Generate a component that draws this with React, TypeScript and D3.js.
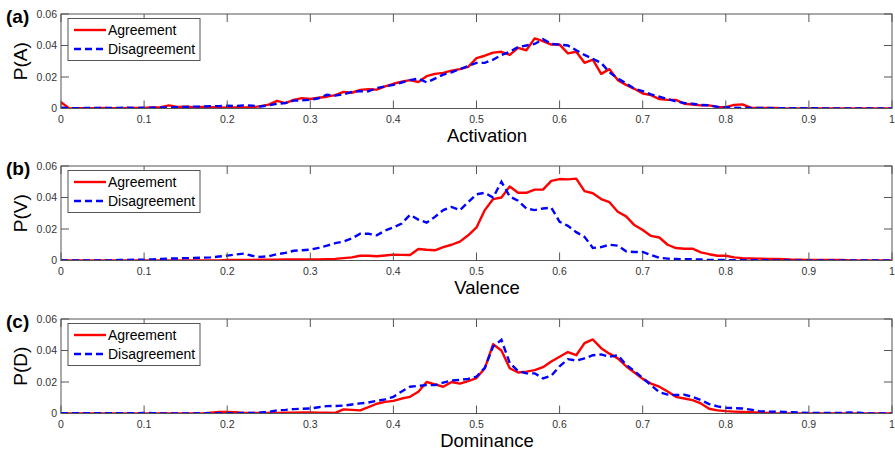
import React from "react";
import * as d3 from "d3";

const xValues: number[] = d3.range(0, 101).map((i) => i / 100);
const xTicks: number[] = [0, 0.1, 0.2, 0.3, 0.4, 0.5, 0.6, 0.7, 0.8, 0.9, 1];
const xTickLabels: string[] = ["0", "0.1", "0.2", "0.3", "0.4", "0.5", "0.6", "0.7", "0.8", "0.9", "1"];
const yTicks: number[] = [0, 0.02, 0.04, 0.06];
const yTickLabels: string[] = ["0", "0.02", "0.04", "0.06"];
const seriesNames: string[] = ["Agreement", "Disagreement"];
const panelLetters: string[] = ["(a)", "(b)", "(c)"];
const yLabels: string[] = ["P(A)", "P(V)", "P(D)"];
const xLabels: string[] = ["Activation", "Valence", "Dominance"];

// Panel (a) Activation
const actAgree: number[] = [
  0.004, 0.0, 0.0002, 0.0002, 0.0002, 0.0003, 0.0002, 0.0002, 0.0003, 0.0003,
  0.0004, 0.0006, 0.0008, 0.002, 0.001, 0.0012, 0.0008, 0.001, 0.0008, 0.0007,
  0.0005, 0.0007, 0.0006, 0.0007, 0.0015, 0.0025, 0.0049, 0.0034, 0.0055, 0.0066,
  0.006, 0.0068, 0.0075, 0.0085, 0.0105, 0.01, 0.0118, 0.0122, 0.012, 0.014,
  0.0157, 0.017, 0.018, 0.0168, 0.0205, 0.022, 0.0226, 0.024, 0.025, 0.0264,
  0.032, 0.0335, 0.0355, 0.036, 0.034, 0.0385, 0.037, 0.0445, 0.0428, 0.0406,
  0.0406, 0.035, 0.036, 0.029, 0.031, 0.022, 0.025, 0.018, 0.015, 0.0125,
  0.0095, 0.0085, 0.006, 0.0055, 0.0055, 0.003, 0.0025, 0.002, 0.002, 0.001,
  0.0008, 0.0023, 0.0026, 0.0005, 0.0003, 0.0003, 0.0003, 0.0001, 0.0001, 0.0001,
  0.0001, 0.0001, 0.0001, 0.0001, 0.0001, 0.0001, 0.0001, 0.0001, 0.0001, 0.0001,
  0.0001,
];
const actDisagree: number[] = [
  0.0005, 0.0003, 0.0002, 0.0003, 0.0003, 0.0004, 0.0003, 0.0004, 0.0005, 0.0004,
  0.0005, 0.0005, 0.0007, 0.0006, 0.0008, 0.001, 0.0012, 0.0012, 0.0015, 0.0015,
  0.0017, 0.0015, 0.002, 0.0018, 0.0013, 0.002, 0.003, 0.0035, 0.005, 0.0052,
  0.0055, 0.0065, 0.0087, 0.0082, 0.009, 0.0105, 0.011, 0.011, 0.013, 0.014,
  0.015, 0.0165, 0.018, 0.019, 0.0166, 0.019, 0.0215, 0.023, 0.025, 0.027,
  0.029, 0.029, 0.031, 0.034, 0.036, 0.039, 0.04, 0.041, 0.044, 0.041,
  0.0405, 0.04, 0.037, 0.034, 0.0315, 0.029, 0.023, 0.019, 0.016, 0.0125,
  0.011, 0.009, 0.0075, 0.006, 0.0045, 0.0035, 0.003, 0.0022, 0.002, 0.001,
  0.0008, 0.0005, 0.0003, 0.0003, 0.0003, 0.0003, 0.0002, 0.0002, 0.0002, 0.0002,
  0.0002, 0.0002, 0.0001, 0.0001, 0.0001, 0.0001, 0.0001, 0.0001, 0.0001, 0.0001,
  0.0001,
];

// Panel (b) Valence
const valAgree: number[] = [
  0.0001, 0.0001, 0.0001, 0.0001, 0.0001, 0.0001, 0.0001, 0.0001, 0.0001, 0.0001,
  0.0001, 0.0001, 0.0001, 0.0001, 0.0001, 0.0001, 0.0001, 0.0001, 0.0001, 0.0001,
  0.0003, 0.0003, 0.0004, 0.0004, 0.0005, 0.0005, 0.0005, 0.0006, 0.0006, 0.0006,
  0.0006, 0.0007, 0.0008, 0.001, 0.0015, 0.002, 0.003, 0.003, 0.0027, 0.0032,
  0.0037, 0.0036, 0.0035, 0.0073, 0.0068, 0.0065, 0.0085, 0.01, 0.012, 0.016,
  0.021, 0.032, 0.039, 0.04, 0.047, 0.043, 0.043, 0.045, 0.045, 0.0506,
  0.0517, 0.0515, 0.052, 0.044, 0.0427, 0.039, 0.037, 0.031, 0.028, 0.0225,
  0.0194, 0.0156, 0.0146, 0.01, 0.0079, 0.0075, 0.0075, 0.0052, 0.004, 0.003,
  0.003, 0.002, 0.0015, 0.0013, 0.0012, 0.001, 0.001, 0.0008, 0.0005, 0.0005,
  0.0004, 0.0003, 0.0003, 0.0003, 0.0003, 0.0001, 0.0001, 0.0001, 0.0001, 0.0001,
  0.0001,
];
const valDisagree: number[] = [
  0.0001, 0.0001, 0.0001, 0.0001, 0.0001, 0.0001, 0.0001, 0.0003, 0.0004, 0.0005,
  0.0005, 0.0007, 0.001, 0.0012, 0.0013, 0.0015, 0.0016, 0.0018, 0.002, 0.0025,
  0.0031, 0.0038, 0.0044, 0.003, 0.0023, 0.0027, 0.004, 0.0048, 0.0062, 0.0065,
  0.0069, 0.008, 0.0094, 0.011, 0.012, 0.014, 0.017, 0.017, 0.016, 0.019,
  0.021, 0.0235, 0.029, 0.026, 0.024, 0.0277, 0.032, 0.034, 0.032, 0.037,
  0.042, 0.043, 0.04, 0.05, 0.0406, 0.038, 0.033, 0.032, 0.033, 0.0335,
  0.0246, 0.022, 0.018, 0.015, 0.008, 0.0085, 0.01, 0.0094, 0.0058, 0.0054,
  0.0054, 0.0035, 0.0017, 0.0012, 0.001, 0.0008, 0.0008, 0.0006, 0.0003, 0.0003,
  0.0003, 0.0002, 0.0002, 0.0002, 0.0002, 0.0002, 0.0001, 0.0001, 0.0001, 0.0001,
  0.0001, 0.0001, 0.0001, 0.0001, 0.0001, 0.0001, 0.0001, 0.0001, 0.0001, 0.0001,
  0.0001,
];

// Panel (c) Dominance
const domAgree: number[] = [
  0.0001, 0.0001, 0.0001, 0.0001, 0.0001, 0.0001, 0.0001, 0.0001, 0.0001, 0.0001,
  0.0001, 0.0001, 0.0001, 0.0001, 0.0001, 0.0001, 0.0001, 0.0001, 0.0005, 0.001,
  0.001, 0.0008, 0.0003, 0.0003, 0.0003, 0.0003, 0.0004, 0.0005, 0.0005, 0.0006,
  0.0006, 0.0005, 0.0005, 0.0004, 0.0026, 0.0023, 0.002, 0.004, 0.0062, 0.0074,
  0.008, 0.0095, 0.0106, 0.0138, 0.02, 0.0185, 0.017, 0.02, 0.019, 0.0205,
  0.0225, 0.0287, 0.044, 0.04, 0.0287, 0.026, 0.0266, 0.0275, 0.0294, 0.033,
  0.036, 0.039, 0.037, 0.0447, 0.047, 0.0415, 0.038, 0.035, 0.03, 0.026,
  0.022, 0.019, 0.017, 0.014, 0.0106, 0.0095, 0.0085, 0.0064, 0.003, 0.002,
  0.0015, 0.0012, 0.001, 0.0008, 0.0005, 0.0003, 0.0001, 0.0001, 0.0001, 0.0001,
  0.0001, 0.0001, 0.0001, 0.0001, 0.0001, 0.0001, 0.0001, 0.0001, 0.0001, 0.0001,
  0.0001,
];
const domDisagree: number[] = [
  0.0002, 0.0002, 0.0002, 0.0002, 0.0002, 0.0002, 0.0002, 0.0002, 0.0002, 0.0002,
  0.0004, 0.0002, 0.0001, 0.0001, 0.0001, 0.0001, 0.0001, 0.0002, 0.0002, 0.0002,
  0.0002, 0.0002, 0.0003, 0.0003, 0.0006, 0.001, 0.002, 0.0023, 0.0028, 0.003,
  0.0032, 0.004, 0.0047, 0.0048, 0.005, 0.0057, 0.0064, 0.007, 0.008, 0.009,
  0.0106, 0.014, 0.017, 0.0175, 0.018, 0.018, 0.0196, 0.021, 0.0213, 0.022,
  0.0234, 0.029, 0.0425, 0.0468, 0.032, 0.027, 0.0255, 0.0255, 0.0223, 0.024,
  0.03, 0.0345, 0.0336, 0.035, 0.037, 0.0375, 0.036, 0.037, 0.031, 0.027,
  0.0225, 0.018, 0.0135, 0.012, 0.0117, 0.012, 0.0105, 0.0085, 0.006, 0.0045,
  0.0036, 0.0034, 0.0032, 0.0025, 0.0015, 0.0012, 0.0012, 0.001, 0.0008, 0.0005,
  0.0004, 0.0003, 0.0003, 0.0003, 0.0003, 0.0006, 0.0005, 0.0001, 0.0001, 0.0001,
  0.0001,
];

const agreeSeries: number[][] = [actAgree, valAgree, domAgree];
const disagreeSeries: number[][] = [actDisagree, valDisagree, domDisagree];

const W = 895;
const H = 456;
const LEFT = 61;
const RIGHT = 892;
const panelTops = [14, 166, 319];
const PH = 94.5;
const AXIS = "#555";
const FONT = "Arial, 'Liberation Sans', Helvetica, sans-serif";

function Panel({ idx }: { idx: number }) {
  const top = panelTops[idx];
  const bottom = top + PH;
  const x = d3.scaleLinear().domain([0, 1]).range([LEFT, RIGHT]);
  const y = d3.scaleLinear().domain([0, 0.06]).range([bottom, top]);
  const line = d3
    .line<number>()
    .x((_, i) => x(xValues[i]))
    .y((d) => y(d));
  const clipId = `clip-${idx}`;
  const tl = 8;
  return (
    <g>
      <defs>
        <clipPath id={clipId}>
          <rect x={LEFT} y={top} width={RIGHT - LEFT} height={PH} />
        </clipPath>
      </defs>
      <rect x={LEFT} y={top} width={RIGHT - LEFT} height={PH} fill="#fff" />
      <g clipPath={`url(#${clipId})`}>
        <path d={line(agreeSeries[idx]) || ""} fill="none" stroke="#ff0000" strokeWidth={2.4} strokeLinejoin="round" />
        <path d={line(disagreeSeries[idx]) || ""} fill="none" stroke="#0000ff" strokeWidth={2.4} strokeDasharray="7,4" />
      </g>
      {/* frame */}
      <rect x={LEFT} y={top} width={RIGHT - LEFT} height={PH} fill="none" stroke={AXIS} strokeWidth={1} />
      {/* x ticks */}
      {xTicks.map((t, i) => (
        <g key={`xt${i}`}>
          <line x1={x(t)} x2={x(t)} y1={bottom} y2={bottom - tl} stroke={AXIS} strokeWidth={1} />
          <line x1={x(t)} x2={x(t)} y1={top} y2={top + tl} stroke={AXIS} strokeWidth={1} />
          <text x={x(t)} y={bottom + 14} fontSize={10.5} fill="#333" textAnchor="middle" fontFamily={FONT}>
            {xTickLabels[i]}
          </text>
        </g>
      ))}
      {/* y ticks */}
      {yTicks.map((t, i) => (
        <g key={`yt${i}`}>
          <line x1={LEFT} x2={LEFT + tl} y1={y(t)} y2={y(t)} stroke={AXIS} strokeWidth={1} />
          <line x1={RIGHT} x2={RIGHT - tl} y1={y(t)} y2={y(t)} stroke={AXIS} strokeWidth={1} />
          <text x={LEFT - 4} y={y(t) + 3.5} fontSize={10.5} fill="#333" textAnchor="end" fontFamily={FONT}>
            {yTickLabels[i]}
          </text>
        </g>
      ))}
      {/* legend */}
      <g>
        <rect x={68} y={top + 4.5} width={132} height={42} fill="#fff" stroke={AXIS} strokeWidth={1} />
        <line x1={74} x2={106} y1={top + 16} y2={top + 16} stroke="#ff0000" strokeWidth={2.4} />
        <text x={108} y={top + 21} fontSize={14} fill="#000" fontFamily={FONT}>
          {seriesNames[0]}
        </text>
        <line x1={74} x2={106} y1={top + 35} y2={top + 35} stroke="#0000ff" strokeWidth={2.4} strokeDasharray="7,4" />
        <text x={108} y={top + 40} fontSize={14} fill="#000" fontFamily={FONT}>
          {seriesNames[1]}
        </text>
      </g>
      {/* panel letter */}
      <text x={6} y={top + 9} fontSize={19} fontWeight="bold" fill="#000" fontFamily={FONT}>
        {panelLetters[idx]}
      </text>
      {/* y label */}
      <text
        transform={`translate(27, ${(top + bottom) / 2}) rotate(-90)`}
        textAnchor="middle"
        fontSize={19}
        fill="#000"
        fontFamily={FONT}
      >
        {yLabels[idx]}
      </text>
      {/* x label */}
      <text x={487} y={bottom + 33.5} textAnchor="middle" fontSize={18.5} fill="#000" fontFamily={FONT}>
        {xLabels[idx]}
      </text>
    </g>
  );
}

export default function App() {
  return (
    <div style={{ position: "absolute", left: 0, top: 0 }}>
      <svg width={W} height={H} viewBox={`0 0 ${W} ${H}`} style={{ display: "block", background: "#fff" }}>
        <rect x={0} y={0} width={W} height={H} fill="#fff" />
        {[0, 1, 2].map((i) => (
          <Panel key={i} idx={i} />
        ))}
      </svg>
    </div>
  );
}
